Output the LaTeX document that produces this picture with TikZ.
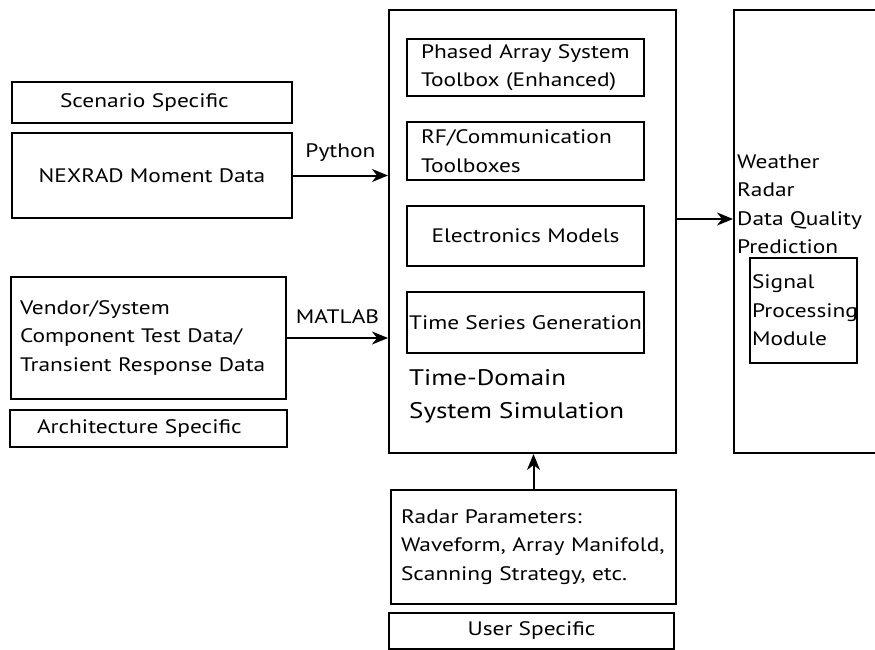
\documentclass[tikz,border=0pt]{standalone}
\usepackage{fontspec}
\setmainfont[FakeStretch=1.2]{PT Sans}
\usetikzlibrary{arrows.meta}
\hyphenpenalty=10000
\begin{document}
\begin{tikzpicture}[x=1pt,y=-1pt,
  every node/.style={font=\fontsize{19.5}{28.5}\selectfont},
  box/.style={draw,line width=2pt,inner sep=0pt,minimum width=#1},
  box/.default=100pt,
  conn/.style={line width=2pt,-{Stealth[length=16pt,width=13pt,inset=5pt]}},
  lbl/.style={inner sep=0pt}]
\useasboundingbox (0,0) rectangle (875,650);

% left column: inputs
\node[box=280pt,minimum height=41pt,text width=276pt,align=left] (scen) at (152,102.5)
  {\hspace*{46pt}Scenario Specific};
\node[box=280pt,minimum height=85pt] (nexrad) at (152,175.5) {NEXRAD Moment Data};
\node[box=275pt,minimum height=122pt,text width=257pt,align=left] (vendor) at (148.5,338)
  {Vendor/System\\Component Test Data/\\Transient Response Data};
\node[box=277pt,minimum height=37pt,text width=273pt,align=left] (arch) at (148.5,428.5)
  {\hspace*{25pt}Architecture Specific};

% central simulation block
\node[box=287pt,minimum height=443pt] (sim) at (532.5,231.5) {};
\node[box=237pt,minimum height=57pt,text width=233pt,align=left] (pas) at (525.5,67.5)
  {\hspace*{12pt}Phased Array System\\\hspace*{12pt}Toolbox (Enhanced)};
\node[box=237pt,minimum height=58pt,text width=233pt,align=left] (rf) at (525.5,151)
  {\hspace*{12pt}RF/Communication\\\hspace*{12pt}Toolboxes};
\node[box=237pt,minimum height=60pt] (elec) at (525.5,236) {Electronics Models};
\node[box=237pt,minimum height=61pt] (tsg) at (525.5,322.5) {Time Series Generation};
\node[lbl,anchor=west,align=left,font=\fontsize{22.5}{33}\selectfont] (tdss) at (409,396.5)
  {Time-Domain\\System Simulation};

% output block (runs past the right edge)
\node[box=160pt,minimum height=443pt,anchor=west] (out) at (733,231.5) {};
\node[lbl,anchor=west,align=left] (wx) at (737,204.5)
  {Weather\\Radar\\Data Quality\\Prediction};
\node[box=107pt,minimum height=105pt,text width=103pt,align=left] (spm) at (803.5,310.5)
  {Signal\\Processing\\Module};

% user inputs
\node[box=285pt,minimum height=114pt,text width=265pt,align=left] (radar) at (533.5,547)
  {Radar Parameters:\\Waveform, Array Manifold,\\Scanning Strategy, etc.};
\node[box=285pt,minimum height=36pt] (user) at (531.5,631) {User Specific};

% connectors
\coordinate (pyIn) at (sim.west |- nexrad.east);
\coordinate (mlIn) at (sim.west |- vendor.east);
\draw[conn] (nexrad.east) -- node[lbl,above=13pt] {Python} (pyIn);
\draw[conn] (vendor.east) -- node[lbl,above=13pt] {MATLAB} (mlIn);
\coordinate (simOut) at (sim.east |- 0,219);
\draw[conn] (simOut) -- (out.west |- simOut);
\draw[conn] (radar.north) -- (radar.north |- sim.south);
\end{tikzpicture}
\end{document}
